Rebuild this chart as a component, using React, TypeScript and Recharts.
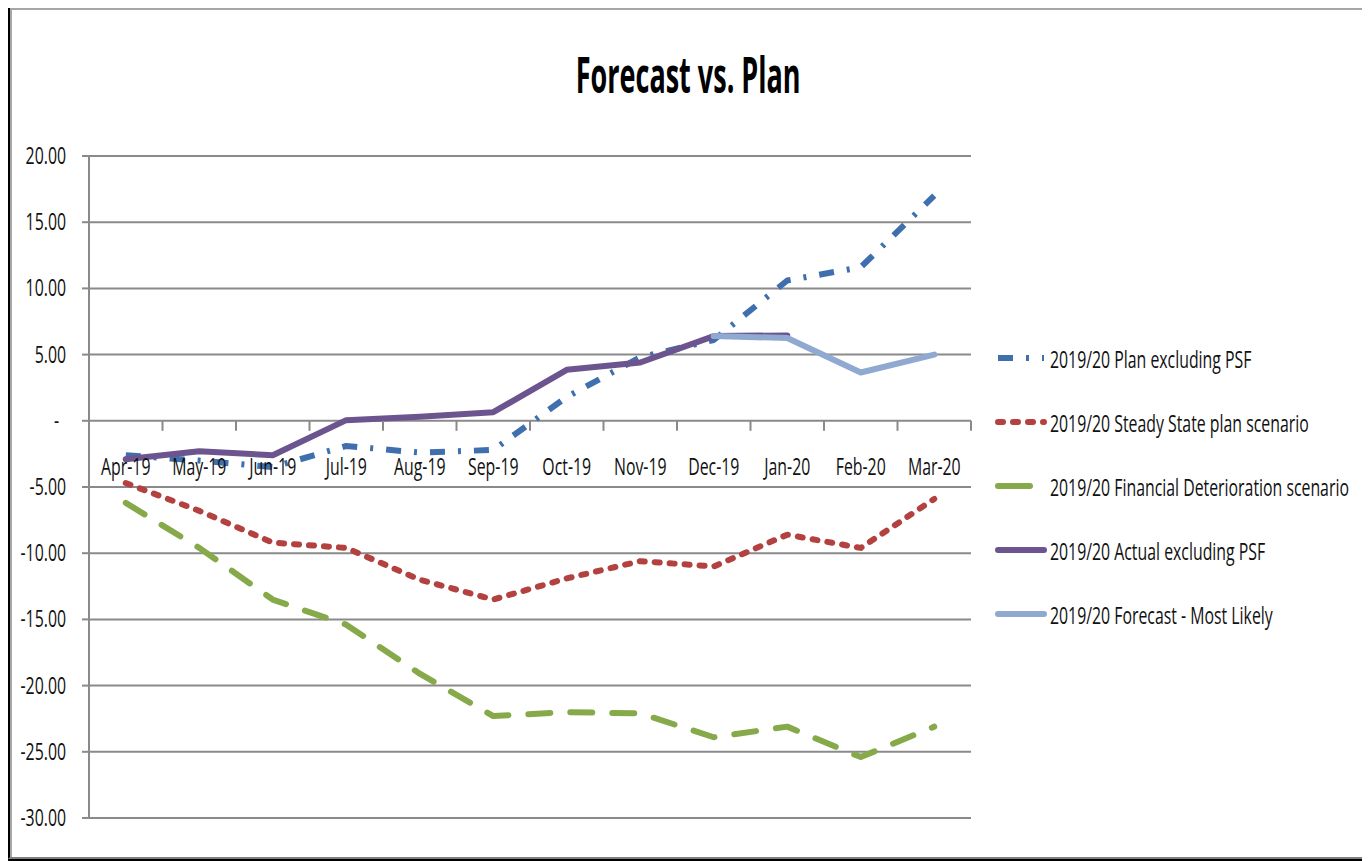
import { LineChart, Line, XAxis, YAxis, CartesianGrid, Legend } from 'recharts';

const months = ['Apr-19', 'May-19', 'Jun-19', 'Jul-19', 'Aug-19', 'Sep-19', 'Oct-19', 'Nov-19', 'Dec-19', 'Jan-20', 'Feb-20', 'Mar-20'];
const planExPsf = [-2.6, -3.0, -3.5, -1.9, -2.4, -2.2, 1.8, 4.8, 6.1, 10.6, 11.6, 17.0];
const steadyState = [-4.7, -6.8, -9.2, -9.6, -12.0, -13.5, -11.9, -10.6, -11.0, -8.6, -9.6, -5.9];
const financialDeterioration = [-6.2, -9.6, -13.5, -15.4, -19.1, -22.3, -22.0, -22.1, -23.9, -23.1, -25.4, -23.1];
const actualExPsf = [-2.9, -2.3, -2.6, 0.05, 0.3, 0.65, 3.85, 4.4, 6.4, 6.45, null, null];
const forecastMostLikely = [null, null, null, null, null, null, null, null, 6.4, 6.25, 3.65, 5.0];
const yTicks = [-30, -25, -20, -15, -10, -5, 0, 5, 10, 15, 20];

const CHART_W = 1370;
const CHART_H = 861;
const PLOT_LEFT = 89;
const PLOT_RIGHT = 971;
const PLOT_TOP = 156;
const PLOT_BOTTOM = 818;
const X_AXIS_H = 20;
const Y_MIN = -30;
const Y_MAX = 20;
const STEP = (PLOT_RIGHT - PLOT_LEFT) / months.length;
// the category axis crosses at zero, not at the bottom of the plot
const ZERO_Y = PLOT_TOP + (Y_MAX / (Y_MAX - Y_MIN)) * (PLOT_BOTTOM - PLOT_TOP);

const AXIS_GREY = '#8a8a8a';
const FONT = '"Open Sans", "DejaVu Sans", sans-serif';
const FONT_SIZE = 24;
const SQUEEZE = 0.66;

const series = [
  { key: 'plan', name: '2019/20 Plan excluding PSF', color: '#3f70ad', dash: '15 13 3 13', cap: 'butt' as const },
  { key: 'steady', name: '2019/20 Steady State plan scenario', color: '#b2413f', dash: '5 10', cap: 'round' as const },
  { key: 'deterioration', name: '2019/20 Financial Deterioration scenario', color: '#86a94a', dash: '22 20', cap: 'round' as const },
  { key: 'actual', name: '2019/20 Actual excluding PSF', color: '#6c548f', dash: undefined, cap: 'round' as const },
  { key: 'forecast', name: '2019/20 Forecast - Most Likely', color: '#8fa9d1', dash: undefined, cap: 'round' as const },
];

const data = months.map((month, i) => ({
  month,
  plan: planExPsf[i],
  steady: steadyState[i],
  deterioration: financialDeterioration[i],
  actual: actualExPsf[i],
  forecast: forecastMostLikely[i],
}));

const YTick = ({ x, y, payload }: any) => {
  const zero = payload.value === 0;
  return (
    <text
      transform={`translate(${zero ? x - 7 : x},${y + 8}) scale(${SQUEEZE},1)`}
      textAnchor="end"
      fontFamily={FONT}
      fontSize={FONT_SIZE}
      fill="#111"
    >
      {zero ? '-' : payload.value.toFixed(2)}
    </text>
  );
};

const MonthTick = ({ x, payload }: any) => (
  <g>
    <line x1={x + STEP / 2} x2={x + STEP / 2} y1={ZERO_Y} y2={ZERO_Y + 10} stroke={AXIS_GREY} strokeWidth={2} />
    <text
      transform={`translate(${x},${ZERO_Y + 54}) scale(${SQUEEZE},1)`}
      textAnchor="middle"
      fontFamily={FONT}
      fontSize={FONT_SIZE}
      fill="#111"
    >
      {payload.value}
    </text>
  </g>
);

const LegendList = () => (
  <div style={{ fontFamily: FONT, fontSize: FONT_SIZE, color: '#111', width: 600 }}>
    {series.map((s) => (
      <div key={s.key} style={{ height: 64, display: 'flex', alignItems: 'center' }}>
        <svg width={52} height={10} style={{ marginRight: 3, flexShrink: 0 }}>
          <line
            x1={3}
            x2={s.key === 'deterioration' ? 35 : 49}
            y1={5}
            y2={5}
            stroke={s.color}
            strokeWidth={6}
            strokeDasharray={s.key === 'deterioration' ? undefined : s.dash}
            strokeLinecap={s.cap}
          />
        </svg>
        <span style={{ display: 'inline-block', whiteSpace: 'nowrap', transform: `scaleX(${SQUEEZE})`, transformOrigin: 'left center' }}>
          {s.name}
        </span>
      </div>
    ))}
  </div>
);

export default function App() {
  return (
    <div style={{ position: 'relative', width: CHART_W, height: CHART_H, margin: '-8px 0 0 -8px', background: '#fff' }}>
      <div
        style={{
          position: 'absolute',
          left: 8,
          top: 6,
          width: 1362,
          height: 853,
          boxSizing: 'border-box',
          borderTop: '2px solid #000',
          borderLeft: '2px solid #000',
          borderRight: '2px solid #808080',
          borderBottom: '2px solid #808080',
          boxShadow: 'inset 2px 2px 0 #a6a6a6, 0 2px 0 #000',
        }}
      />
      <div
        style={{
          position: 'absolute',
          left: 3,
          top: 42,
          width: CHART_W,
          textAlign: 'center',
          fontFamily: FONT,
          fontWeight: 700,
          fontSize: 50,
          lineHeight: '64px',
          color: '#000',
        }}
      >
        <span style={{ display: 'inline-block', transform: 'scaleX(0.54)' }}>Forecast vs. Plan</span>
      </div>
      <LineChart
        width={CHART_W}
        height={CHART_H}
        data={data}
        margin={{ top: PLOT_TOP, right: CHART_W - PLOT_RIGHT, bottom: CHART_H - PLOT_BOTTOM - X_AXIS_H, left: 9 }}
        style={{ position: 'absolute', left: 0, top: 0 }}
      >
        <CartesianGrid vertical={false} stroke={AXIS_GREY} strokeWidth={2} />
        <XAxis
          dataKey="month"
          interval={0}
          height={X_AXIS_H}
          axisLine={false}
          tickLine={false}
          padding={{ left: STEP / 2, right: STEP / 2 }}
          tick={<MonthTick />}
        />
        <YAxis
          width={PLOT_LEFT - 9}
          domain={[Y_MIN, Y_MAX]}
          ticks={yTicks}
          interval={0}
          tickSize={7}
          tickMargin={16}
          axisLine={{ stroke: AXIS_GREY, strokeWidth: 2 }}
          tickLine={{ stroke: AXIS_GREY, strokeWidth: 2 }}
          tick={<YTick />}
        />
        {series.map((s) => (
          <Line
            key={s.key}
            type="linear"
            dataKey={s.key}
            name={s.name}
            stroke={s.color}
            strokeWidth={6}
            strokeDasharray={s.dash}
            strokeLinecap={s.cap}
            strokeLinejoin="round"
            dot={false}
            activeDot={false}
            isAnimationActive={false}
          />
        ))}
        <Legend
          layout="horizontal"
          align="center"
          verticalAlign="middle"
          content={<LegendList />}
          wrapperStyle={{ left: 995, top: 326, width: 370 }}
        />
      </LineChart>
    </div>
  );
}
